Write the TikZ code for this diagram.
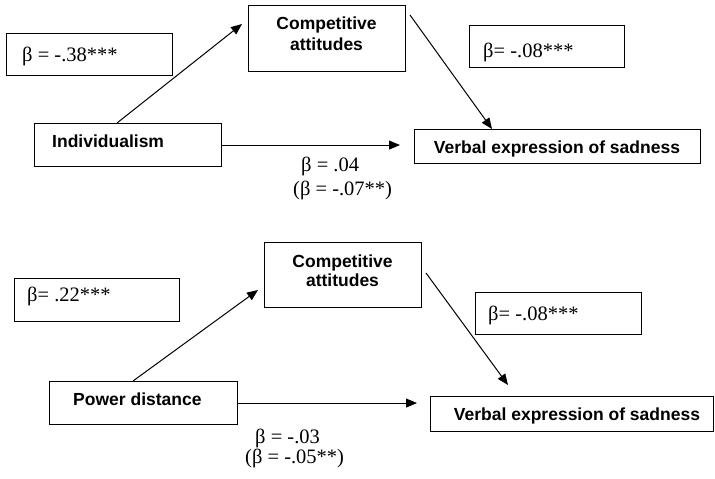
\documentclass[tikz,border=0pt]{standalone}
\usepackage{fontspec}
\setmainfont{Liberation Serif}
\setsansfont{Liberation Sans}
\usetikzlibrary{arrows.meta}
\begin{document}
\begin{tikzpicture}[x=1pt,y=-1pt,
  box/.style={draw, line width=1.1pt, inner sep=0pt, anchor=north west},
  lab/.style={font=\sffamily\bfseries\fontsize{17.5}{20}\selectfont, inner sep=0pt, align=center},
  beta/.style={font=\fontsize{20.5}{24}\selectfont, inner sep=0pt, anchor=base west},
  arr/.style={line width=1pt, -{Triangle[length=11pt,width=9pt]}}]
\useasboundingbox (0,0) rectangle (715,479);

% ---------- top panel ----------
\node[box, minimum width=166pt, minimum height=42pt] (b1) at (6,33) {};
\node[box, minimum width=157pt, minimum height=66pt] (comp1) at (248,5) {};
\node[box, minimum width=187pt, minimum height=43pt] (ind) at (34,123) {};
\node[box, minimum width=155pt, minimum height=42pt] (b2) at (469,25) {};
\node[box, minimum width=286pt, minimum height=34pt] (verb1) at (414,129) {};

\node[beta] (t1) at (22,61) {β = -.38***};
\node[lab, anchor=base] (tc1) at (326.5,29) {Competitive};
\node[lab, anchor=base] (tc1b) at (326.5,50) {attitudes};
\node[lab, anchor=base west] (ti) at (52,147) {Individualism};
\node[beta] (t2) at (483,57) {β= -.08***};
\node[lab, anchor=base] (tv1) at (557,153) {Verbal expression of sadness};
\node[beta] (t3) at (301,171) {β = .04};
\node[beta] (t4) at (293,195) {(β = -.07**)};

\coordinate (tip1) at (242,24);
\coordinate (s1) at (410,15);
\draw[arr] (117,0 |- ind.north) -- (tip1);
\draw[arr, shorten >=14pt] (ind.east) -- (ind.east -| verb1.west);
\draw[arr] (s1) -- (492,0 |- verb1.north);

% ---------- bottom panel ----------
\node[box, minimum width=165pt, minimum height=43pt] (b3) at (14,278) {};
\node[box, minimum width=157pt, minimum height=65pt] (comp2) at (264,242) {};
\node[box, minimum width=188pt, minimum height=43pt] (pd) at (49,381) {};
\node[box, minimum width=166pt, minimum height=42pt] (b4) at (475,292) {};
\node[box, minimum width=283pt, minimum height=35pt] (verb2) at (430,396) {};

\node[beta] (t5) at (27,301) {β= .22***};
\node[lab, anchor=base] (tc2) at (342.5,267) {Competitive};
\node[lab, anchor=base] (tc2b) at (342.5,286) {attitudes};
\node[lab, anchor=base west] (tp) at (73,405) {Power distance};
\node[beta] (t6) at (488,320) {β= -.08***};
\node[lab, anchor=base] (tv2) at (577,420) {Verbal expression of sadness};
\node[beta] (t7) at (255,443) {β = -.03};
\node[beta] (t8) at (245,463) {(β = -.05**)};

\coordinate (tip2) at (258,290);
\coordinate (s2) at (426,273);
\draw[arr] (133,0 |- pd.north) -- (tip2);
\draw[arr, shorten >=13pt] (pd.east) -- (pd.east -| verb2.west);
\draw[arr] (s2) -- (508,385);
\end{tikzpicture}
\end{document}
